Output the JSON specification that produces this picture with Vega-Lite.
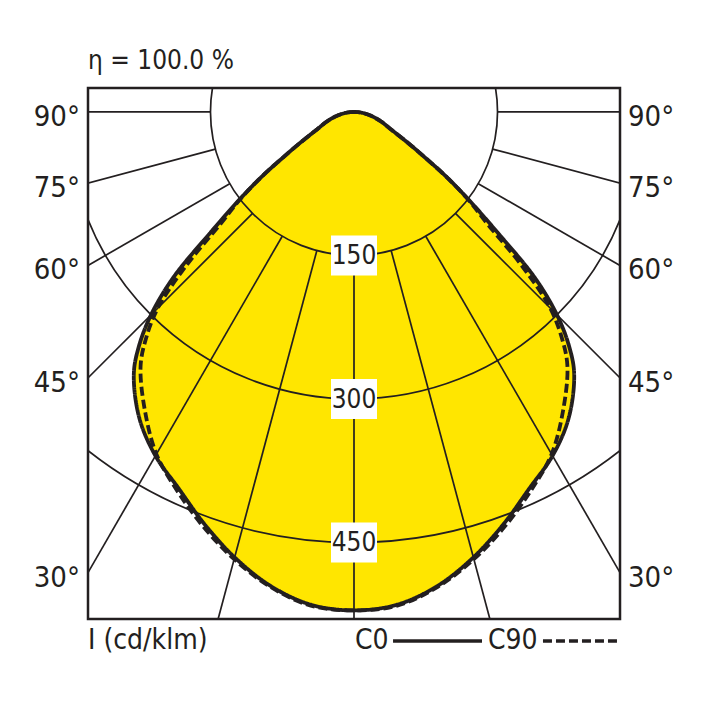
{
  "$schema": "https://vega.github.io/schema/vega-lite/v6.json",
  "width": 532,
  "height": 531,
  "autosize": {"type": "none"},
  "padding": {"left": 88, "top": 88, "right": 88, "bottom": 89},
  "background": "white",
  "config": {
    "view": {"stroke": "#231f20", "strokeWidth": 2.5},
    "font": "Liberation Sans Narrow, DejaVu Sans Condensed, Liberation Sans, sans-serif",
    "text": {"color": "#231f20"}
  },
  "datasets": {
    "curves": [
      {"a": -90, "C0": 0, "C90": 0},
      {"a": -85, "C0": 7, "C90": 7},
      {"a": -80, "C0": 14, "C90": 14},
      {"a": -75, "C0": 22, "C90": 22},
      {"a": -70, "C0": 31, "C90": 31},
      {"a": -65, "C0": 42, "C90": 42},
      {"a": -60, "C0": 66, "C90": 66},
      {"a": -57.5, "C0": 86, "C90": 86},
      {"a": -55, "C0": 117, "C90": 117},
      {"a": -52.5, "C0": 152, "C90": 150},
      {"a": -50, "C0": 195, "C90": 182},
      {"a": -47.5, "C0": 256, "C90": 238},
      {"a": -45, "C0": 300, "C90": 290},
      {"a": -42.5, "C0": 333, "C90": 322},
      {"a": -40, "C0": 358, "C90": 347},
      {"a": -35, "C0": 391, "C90": 381},
      {"a": -30, "C0": 415, "C90": 413},
      {"a": -25, "C0": 434, "C90": 437},
      {"a": -20, "C0": 458, "C90": 461},
      {"a": -15, "C0": 482, "C90": 484},
      {"a": -10, "C0": 503, "C90": 504},
      {"a": -5, "C0": 517, "C90": 518},
      {"a": 0, "C0": 521, "C90": 521},
      {"a": 5, "C0": 517, "C90": 518},
      {"a": 10, "C0": 503, "C90": 504},
      {"a": 15, "C0": 482, "C90": 484},
      {"a": 20, "C0": 458, "C90": 461},
      {"a": 25, "C0": 434, "C90": 437},
      {"a": 30, "C0": 415, "C90": 413},
      {"a": 35, "C0": 391, "C90": 381},
      {"a": 40, "C0": 358, "C90": 347},
      {"a": 42.5, "C0": 333, "C90": 322},
      {"a": 45, "C0": 300, "C90": 290},
      {"a": 47.5, "C0": 256, "C90": 238},
      {"a": 50, "C0": 195, "C90": 182},
      {"a": 52.5, "C0": 152, "C90": 150},
      {"a": 55, "C0": 117, "C90": 117},
      {"a": 57.5, "C0": 86, "C90": 86},
      {"a": 60, "C0": 66, "C90": 66},
      {"a": 65, "C0": 42, "C90": 42},
      {"a": 70, "C0": 31, "C90": 31},
      {"a": 75, "C0": 22, "C90": 22},
      {"a": 80, "C0": 14, "C90": 14},
      {"a": 85, "C0": 7, "C90": 7},
      {"a": 90, "C0": 0, "C90": 0}
    ],
    "rings": [{"ring": 150}, {"ring": 300}, {"ring": 450}],
    "rays": [
      {"a": -90}, {"a": -75}, {"a": -60}, {"a": -45}, {"a": -30}, {"a": -15}, {"a": 0},
      {"a": 15}, {"a": 30}, {"a": 45}, {"a": 60}, {"a": 75}, {"a": 90}
    ],
    "sides": [
      {"a": 90, "label": "90°"},
      {"a": 75, "label": "75°"},
      {"a": 60, "label": "60°"},
      {"a": 45, "label": "45°"},
      {"a": 30, "label": "30°"}
    ]
  },
  "layer": [
    {
      "data": {"name": "curves"},
      "transform": [
        {"fold": ["C0", "C90"], "as": ["plane", "I"]},
        {"filter": "datum.plane === 'C0'"},
        {"calculate": "datum.I * sin(datum.a * PI / 180)", "as": "x"},
        {"calculate": "-datum.I * cos(datum.a * PI / 180)", "as": "y"}
      ],
      "mark": {"type": "line", "fill": "#ffe600", "strokeWidth": 0, "interpolate": "catmull-rom"},
      "encoding": {
        "x": {"field": "x", "type": "quantitative", "scale": {"domain": [-278, 278], "nice": false, "zero": false}, "axis": null},
        "y": {"field": "y", "type": "quantitative", "scale": {"domain": [-530, 25], "nice": false, "zero": false}, "axis": null},
        "order": {"field": "a", "type": "quantitative"}
      }
    },
    {
      "data": {"name": "rings"},
      "mark": {"type": "arc", "filled": false, "stroke": "#231f20", "strokeWidth": 1.7, "theta": 0, "theta2": 6.2832, "clip": true},
      "encoding": {
        "x": {"datum": 0, "type": "quantitative", "scale": {"domain": [-278, 278], "nice": false, "zero": false}, "axis": null},
        "y": {"datum": 0, "type": "quantitative", "scale": {"domain": [-530, 25], "nice": false, "zero": false}, "axis": null},
        "radius": {"field": "ring", "type": "quantitative", "stack": null, "scale": {"type": "linear", "domain": [0, 278], "range": [0, 266], "zero": true, "nice": false}}
      }
    },
    {
      "data": {"name": "rays"},
      "transform": [
        {"calculate": "150 * sin(datum.a * PI / 180)", "as": "x"},
        {"calculate": "-150 * cos(datum.a * PI / 180)", "as": "y"},
        {"calculate": "900 * sin(datum.a * PI / 180)", "as": "x2"},
        {"calculate": "-900 * cos(datum.a * PI / 180)", "as": "y2"}
      ],
      "mark": {"type": "rule", "color": "#231f20", "strokeWidth": 1.7, "clip": true},
      "encoding": {
        "x": {"field": "x", "type": "quantitative", "scale": {"domain": [-278, 278], "nice": false, "zero": false}, "axis": null},
        "y": {"field": "y", "type": "quantitative", "scale": {"domain": [-530, 25], "nice": false, "zero": false}, "axis": null},
        "x2": {"field": "x2"},
        "y2": {"field": "y2"}
      }
    },
    {
      "data": {"name": "rings"},
      "transform": [{"calculate": "-datum.ring", "as": "y"}],
      "mark": {"type": "point", "shape": "M-1.15,-1H1.15V1H-1.15Z", "size": 1600, "filled": true, "color": "white", "opacity": 1, "strokeWidth": 0},
      "encoding": {
        "x": {"datum": 0, "type": "quantitative", "scale": {"domain": [-278, 278], "nice": false, "zero": false}, "axis": null},
        "y": {"field": "y", "type": "quantitative", "scale": {"domain": [-530, 25], "nice": false, "zero": false}, "axis": null}
      }
    },
    {
      "data": {"name": "rings"},
      "transform": [{"calculate": "-datum.ring", "as": "y"}],
      "mark": {"type": "text", "fontSize": 26, "align": "center", "baseline": "middle", "dy": 1},
      "encoding": {
        "x": {"datum": 0, "type": "quantitative", "scale": {"domain": [-278, 278], "nice": false, "zero": false}, "axis": null},
        "y": {"field": "y", "type": "quantitative", "scale": {"domain": [-530, 25], "nice": false, "zero": false}, "axis": null},
        "text": {"field": "ring"}
      }
    },
    {
      "data": {"name": "curves"},
      "transform": [
        {"fold": ["C0", "C90"], "as": ["plane", "I"]},
        {"calculate": "datum.I * sin(datum.a * PI / 180)", "as": "x"},
        {"calculate": "-datum.I * cos(datum.a * PI / 180)", "as": "y"}
      ],
      "mark": {"type": "line", "color": "#231f20", "strokeWidth": 3.8, "interpolate": "catmull-rom"},
      "encoding": {
        "x": {"field": "x", "type": "quantitative", "scale": {"domain": [-278, 278], "nice": false, "zero": false}, "axis": null},
        "y": {"field": "y", "type": "quantitative", "scale": {"domain": [-530, 25], "nice": false, "zero": false}, "axis": null},
        "order": {"field": "a", "type": "quantitative"},
        "strokeDash": {"field": "plane", "type": "nominal", "scale": {"domain": ["C0", "C90"], "range": [[1, 0], [9, 4]]}, "legend": null}
      }
    },
    {
      "data": {"name": "sides"},
      "transform": [{"calculate": "-278 * cos(datum.a * PI / 180) / sin(datum.a * PI / 180)", "as": "y"}],
      "mark": {"type": "text", "fontSize": 29, "align": "right", "baseline": "middle", "dx": -8, "dy": 5},
      "encoding": {
        "x": {"datum": -278, "type": "quantitative", "scale": {"domain": [-278, 278], "nice": false, "zero": false}, "axis": null},
        "y": {"field": "y", "type": "quantitative", "scale": {"domain": [-530, 25], "nice": false, "zero": false}, "axis": null},
        "text": {"field": "label"}
      }
    },
    {
      "data": {"name": "sides"},
      "transform": [{"calculate": "-278 * cos(datum.a * PI / 180) / sin(datum.a * PI / 180)", "as": "y"}],
      "mark": {"type": "text", "fontSize": 29, "align": "left", "baseline": "middle", "dx": 8, "dy": 5},
      "encoding": {
        "x": {"datum": 278, "type": "quantitative", "scale": {"domain": [-278, 278], "nice": false, "zero": false}, "axis": null},
        "y": {"field": "y", "type": "quantitative", "scale": {"domain": [-530, 25], "nice": false, "zero": false}, "axis": null},
        "text": {"field": "label"}
      }
    },
    {
      "data": {"values": [{"t": "η = 100.0 %"}]},
      "mark": {"type": "text", "fontSize": 26, "align": "left", "baseline": "middle"},
      "encoding": {
        "x": {"datum": -278, "type": "quantitative", "scale": {"domain": [-278, 278], "nice": false, "zero": false}, "axis": null},
        "y": {"datum": 53, "type": "quantitative", "scale": {"domain": [-530, 25], "nice": false, "zero": false}, "axis": null},
        "text": {"field": "t"}
      }
    },
    {
      "data": {"values": [{"t": "I (cd/klm)", "x": -278}, {"t": "C0", "x": 1}, {"t": "C90", "x": 140}]},
      "mark": {"type": "text", "fontSize": 28, "align": "left", "baseline": "middle"},
      "encoding": {
        "x": {"field": "x", "type": "quantitative", "scale": {"domain": [-278, 278], "nice": false, "zero": false}, "axis": null},
        "y": {"datum": -553, "type": "quantitative", "scale": {"domain": [-530, 25], "nice": false, "zero": false}, "axis": null},
        "text": {"field": "t"}
      }
    },
    {
      "data": {"values": [{"plane": "C0", "x": 40.8, "x2": 133.8}, {"plane": "C90", "x": 197.5, "x2": 274.9}]},
      "mark": {"type": "rule", "color": "#231f20", "strokeWidth": 3.3},
      "encoding": {
        "x": {"field": "x", "type": "quantitative", "scale": {"domain": [-278, 278], "nice": false, "zero": false}, "axis": null},
        "x2": {"field": "x2"},
        "y": {"datum": -553, "type": "quantitative", "scale": {"domain": [-530, 25], "nice": false, "zero": false}, "axis": null},
        "strokeDash": {"field": "plane", "type": "nominal", "scale": {"domain": ["C0", "C90"], "range": [[1, 0], [10, 4]]}, "legend": null}
      }
    }
  ]
}
